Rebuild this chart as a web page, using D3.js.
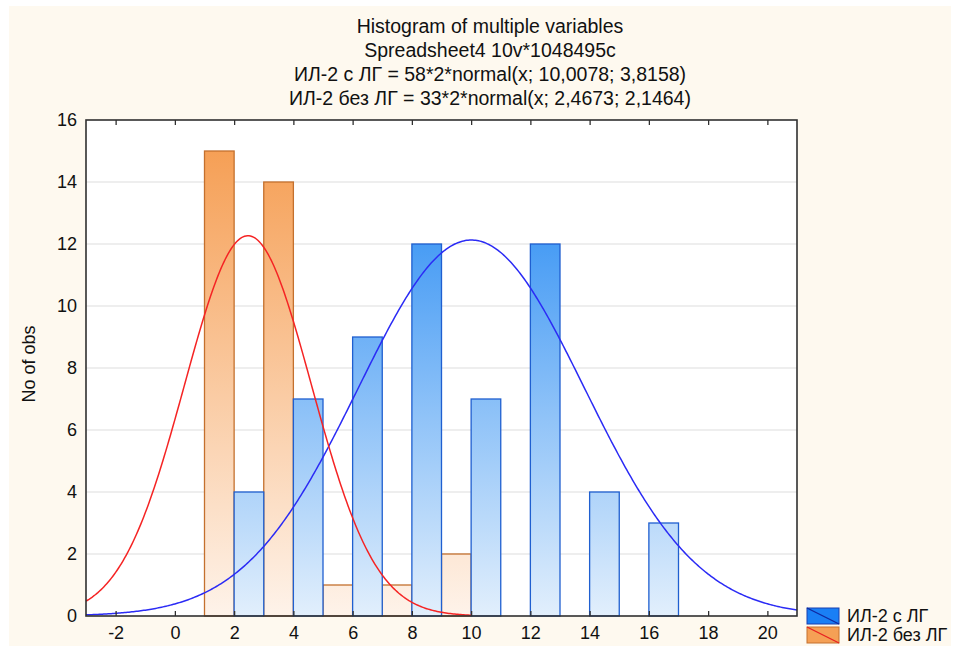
<!DOCTYPE html>
<html lang="en">
<head>
	<meta charset="UTF-8">
	<title>Histogram of multiple variables</title>
	<script type="text/javascript" src="https://cdnjs.cloudflare.com/ajax/libs/d3/7.8.5/d3.min.js" charset="UTF-8"></script>
	<style>
		body { margin: 0; background: #fff; }
		text { font-family: "Liberation Sans", Arial, sans-serif; fill: #111; }
	</style>
</head>
<body>
	<script type="text/javascript">
	// bin centers (bins are 2 wide)
	let binCenters = [2, 4, 6, 8, 10, 12, 14, 16]
	let withLG = [4, 7, 9, 12, 7, 12, 4, 3]
	let withoutLG = [15, 14, 1, 1, 2, 0, 0, 0]
	let seriesNames = ['ИЛ-2 без ЛГ', 'ИЛ-2 с ЛГ']
	// fitted normal curves: [n, mean, sd, xFrom, xTo]
	let fitWithLG = [58, 10.0078, 3.8158, -3, 21]
	let fitWithoutLG = [33, 2.4673, 2.1464, -3, 10]
	let xTicks = [-2, 0, 2, 4, 6, 8, 10, 12, 14, 16, 18, 20]
	let yTicks = [0, 2, 4, 6, 8, 10, 12, 14, 16]
	let titleLines = [
		'Histogram of multiple variables',
		'Spreadsheet4 10v*1048495c',
		'ИЛ-2 с ЛГ = 58*2*normal(x; 10,0078; 3,8158)',
		'ИЛ-2 без ЛГ = 33*2*normal(x; 2,4673; 2,1464)'
	]

	let W = 957, H = 651
	let m = { left: 86, right: 797, top: 120, bottom: 616 }

	let svg = d3.select('body').append('svg')
		.attr('width', W)
		.attr('height', H)

	svg.append('rect')
		.attr('x', 9).attr('y', 6)
		.attr('width', 942).attr('height', 640)
		.attr('fill', '#fef9ef')

	let defs = svg.append('defs')
	function grad(id, top, bottom) {
		let g = defs.append('linearGradient')
			.attr('id', id)
			.attr('gradientUnits', 'userSpaceOnUse')
			.attr('x1', 0).attr('x2', 0)
			.attr('y1', m.top).attr('y2', m.bottom)
		g.append('stop').attr('offset', '0%').attr('stop-color', top)
		g.append('stop').attr('offset', '100%').attr('stop-color', bottom)
	}
	grad('gBlue', '#1581f2', '#e2effc')
	grad('gOrange', '#f59a4c', '#fef3ea')

	let x = d3.scaleLinear().domain([-3, 21]).range([m.left, m.right])
	let y = d3.scaleLinear().domain([0, 16]).range([m.bottom, m.top])
	let sub = d3.scaleBand().domain(seriesNames).range([0, x(2) - x(0)])

	// plot area
	svg.append('rect')
		.attr('x', m.left).attr('y', m.top)
		.attr('width', m.right - m.left).attr('height', m.bottom - m.top)
		.attr('fill', '#fff')

	// grid
	svg.append('g')
		.selectAll('line')
		.data(yTicks.slice(1, -1))
		.enter()
		.append('line')
		.attr('x1', m.left).attr('x2', m.right)
		.attr('y1', d => y(d)).attr('y2', d => y(d))
		.attr('stroke', '#dedede')
		.attr('stroke-width', 1.2)

	// bars
	function bars(values, name, fill, stroke) {
		svg.append('g')
			.selectAll('rect')
			.data(values.map((v, i) => ({ c: binCenters[i], v: v })).filter(d => d.v > 0))
			.enter()
			.append('rect')
			.attr('x', d => x(d.c - 1) + sub(name))
			.attr('width', sub.bandwidth())
			.attr('y', d => y(d.v))
			.attr('height', d => y(0) - y(d.v))
			.attr('fill', fill)
			.attr('stroke', stroke)
			.attr('stroke-width', 1.3)
	}
	bars(withoutLG, seriesNames[0], 'url(#gOrange)', '#c4702e')
	bars(withLG, seriesNames[1], 'url(#gBlue)', '#1f5fd0')

	// fitted curves
	function curve(fit, color) {
		let [n, mu, sd, a, b] = fit
		let pts = d3.range(a, b + 0.001, 0.05).map(t =>
			[t, n * 2 * Math.exp(-0.5 * ((t - mu) / sd) ** 2) / (sd * Math.sqrt(2 * Math.PI))])
		let line = d3.line().x(d => x(d[0])).y(d => y(d[1]))
		svg.append('path')
			.attr('d', line(pts))
			.attr('fill', 'none')
			.attr('stroke', color)
			.attr('stroke-width', 1.5)
	}
	curve(fitWithLG, '#2b2bf5')
	curve(fitWithoutLG, '#f52424')

	// frame
	svg.append('rect')
		.attr('x', m.left).attr('y', m.top)
		.attr('width', m.right - m.left).attr('height', m.bottom - m.top)
		.attr('fill', 'none')
		.attr('stroke', '#303030')
		.attr('stroke-width', 1.6)

	// x axis bottom and top, ticks inward
	let xb = svg.append('g')
		.attr('transform', `translate(0,${m.bottom})`)
		.call(d3.axisBottom(x).tickValues(xTicks).tickSizeInner(-5).tickSizeOuter(0)
			.tickPadding(10).tickFormat(d => String(d)))
	xb.select('.domain').remove()
	xb.selectAll('line').attr('stroke', '#303030').attr('stroke-width', 1.3)
	xb.selectAll('text').style('font-size', '18px').attr('fill', '#111')

	let xt = svg.append('g')
		.attr('transform', `translate(0,${m.top})`)
		.call(d3.axisTop(x).tickValues(xTicks).tickSizeInner(-5).tickSizeOuter(0).tickFormat(''))
	xt.select('.domain').remove()
	xt.selectAll('line').attr('stroke', '#303030').attr('stroke-width', 1.3)

	let ya = svg.append('g')
		.attr('transform', `translate(${m.left},0)`)
		.call(d3.axisLeft(y).tickValues(yTicks).tickSize(0).tickPadding(9))
	ya.select('.domain').remove()
	ya.selectAll('text').style('font-size', '18px').attr('fill', '#111')

	svg.append('text')
		.attr('transform', 'translate(35,364) rotate(-90)')
		.attr('text-anchor', 'middle')
		.style('font-size', '18px')
		.text('No of obs')

	// title
	svg.append('g')
		.selectAll('text')
		.data(titleLines)
		.enter()
		.append('text')
		.attr('x', 490)
		.attr('y', (d, i) => 33 + i * 24)
		.attr('text-anchor', 'middle')
		.style('font-size', '19.5px')
		.text(d => d)

	// legend
	let legendItems = [
		{ name: 'ИЛ-2 с ЛГ', fill: '#1a7ff5', stroke: '#1840b0', diag: '#1028a0' },
		{ name: 'ИЛ-2 без ЛГ', fill: '#f5a055', stroke: '#c4702e', diag: '#e82020' }
	]
	let lg = svg.append('g')
		.selectAll('g')
		.data(legendItems)
		.enter()
		.append('g')
		.attr('transform', (d, i) => `translate(807,${608 + i * 19})`)
	lg.append('rect')
		.attr('width', 32).attr('height', 16)
		.attr('fill', d => d.fill)
		.attr('stroke', d => d.stroke)
		.attr('stroke-width', 1)
	lg.append('line')
		.attr('x1', 0).attr('y1', 0).attr('x2', 32).attr('y2', 16)
		.attr('stroke', d => d.diag)
		.attr('stroke-width', 1.3)
	lg.append('text')
		.attr('x', 40).attr('y', 14)
		.style('font-size', '18px')
		.text(d => d.name)
	</script>
</body>
</html>
